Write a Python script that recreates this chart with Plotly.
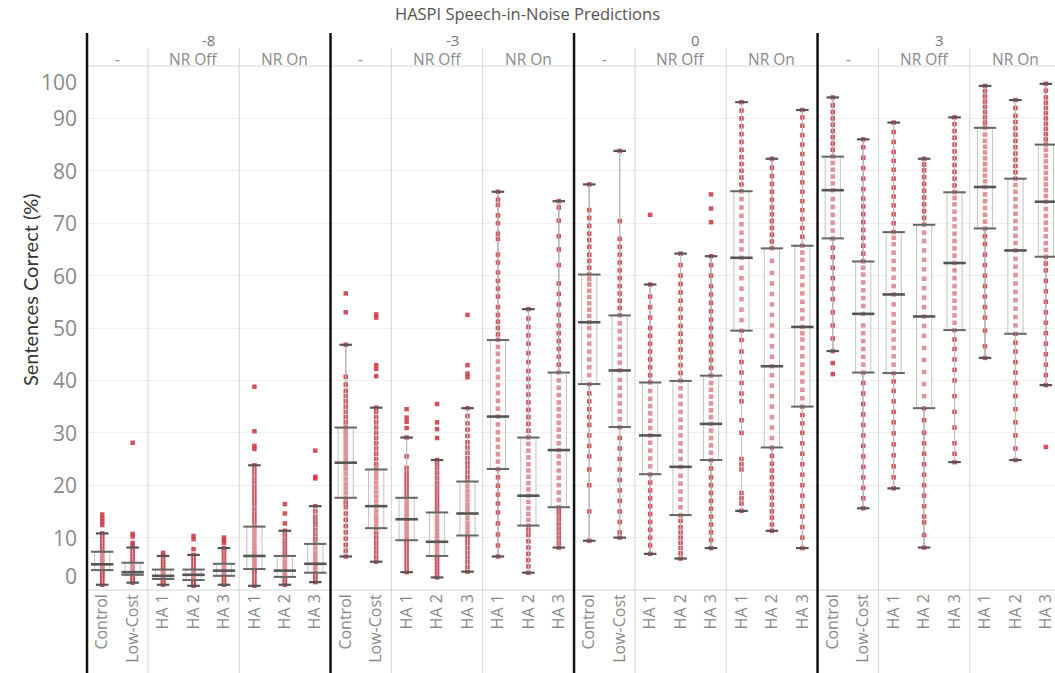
import plotly.graph_objects as go

# ---------------- data ----------------
snr_levels = ["-8", "-3", "0", "3"]
conditions = ["Control", "Low-Cost", "HA 1", "HA 2", "HA 3", "HA 1", "HA 2", "HA 3"]
condition_group = ["-", "-", "NR Off", "NR Off", "NR Off", "NR On", "NR On", "NR On"]
y_ticks = [0, 10, 20, 30, 40, 50, 60, 70, 80, 90, 100]

# box statistics per SNR (8 columns each)
q1_m8 = [3.8, 2.9, 2.1, 1.9, 2.7, 4.0, 2.5, 3.3]
med_m8 = [4.9, 3.4, 2.7, 2.9, 3.7, 6.5, 3.7, 5.0]
q3_m8 = [7.3, 5.2, 3.9, 3.9, 5.0, 12.1, 6.5, 8.8]
lo_m8 = [1.0, 1.4, 1.0, 0.8, 1.0, 0.8, 1.0, 1.5]
hi_m8 = [10.8, 8.1, 6.5, 6.7, 8.0, 23.8, 11.3, 16.0]

q1_m3 = [17.6, 11.8, 9.5, 6.5, 10.4, 23.1, 12.3, 15.8]
med_m3 = [24.3, 16.0, 13.5, 9.2, 14.6, 33.1, 18.0, 26.7]
q3_m3 = [31.0, 23.0, 17.6, 14.8, 20.7, 47.7, 29.1, 41.5]
lo_m3 = [6.4, 5.4, 3.4, 2.4, 3.5, 6.4, 3.3, 8.1]
hi_m3 = [46.8, 34.8, 29.1, 24.8, 34.7, 76.0, 53.6, 74.2]

q1_0 = [39.3, 31.1, 22.1, 14.3, 24.8, 49.5, 27.2, 35.0]
med_0 = [51.1, 41.9, 29.5, 23.5, 31.7, 63.4, 42.7, 50.2]
q3_0 = [60.2, 52.4, 39.6, 39.9, 40.9, 76.1, 65.2, 65.7]
lo_0 = [9.4, 10.0, 6.9, 6.0, 8.0, 15.1, 11.3, 8.0]
hi_0 = [77.4, 83.8, 58.3, 64.2, 63.7, 93.1, 82.3, 91.6]

q1_3 = [67.1, 41.5, 41.4, 34.7, 49.6, 69.0, 48.9, 63.6]
med_3 = [76.3, 52.7, 56.4, 52.2, 62.4, 76.9, 64.8, 74.1]
q3_3 = [82.7, 62.7, 68.3, 69.7, 75.9, 88.2, 78.5, 85.0]
lo_3 = [45.6, 15.6, 19.4, 8.1, 24.4, 44.3, 24.8, 39.1]
hi_3 = [94.0, 86.0, 89.2, 82.3, 90.2, 96.2, 93.5, 96.6]

# individual predictions
pts_m8 = [
    [1.0, 1.5, 2.0, 2.4, 2.8, 3.2, 3.5, 3.8, 4.0, 4.3, 4.6, 4.9, 5.2, 5.6, 6.0, 6.5, 7.0, 7.3, 7.8, 8.4, 9.0, 9.6, 10.2, 10.8, 12.4, 13.1, 13.7, 14.4],
    [1.4, 1.8, 2.2, 2.6, 2.9, 3.1, 3.3, 3.4, 3.6, 3.9, 4.3, 4.7, 5.2, 5.7, 6.3, 6.9, 7.5, 8.1, 8.6, 9.0, 10.2, 10.7, 28.1],
    [1.0, 1.3, 1.6, 1.9, 2.1, 2.3, 2.5, 2.7, 2.9, 3.2, 3.5, 3.9, 4.3, 4.8, 5.3, 5.9, 6.5, 7.1],
    [0.8, 1.1, 1.4, 1.7, 1.9, 2.2, 2.5, 2.9, 3.2, 3.5, 3.9, 4.4, 5.0, 5.6, 6.2, 6.7, 7.8, 9.7, 10.3],
    [1.0, 1.4, 1.8, 2.2, 2.7, 3.0, 3.4, 3.7, 4.0, 4.5, 5.0, 5.6, 6.3, 7.0, 7.5, 8.0, 9.0, 9.5, 10.0],
    [0.8, 1.5, 2.2, 3.0, 3.6, 4.0, 4.5, 5.0, 5.5, 6.0, 6.5, 7.0, 7.6, 8.3, 9.0, 9.8, 10.6, 11.4, 12.1, 13.0, 13.8, 14.6, 15.5, 16.4, 17.2, 18.0, 18.8, 19.6, 20.5, 21.3, 22.2, 23.0, 23.8, 26.9, 27.5, 30.3, 38.8],
    [1.0, 1.5, 2.0, 2.5, 2.9, 3.3, 3.7, 4.1, 4.6, 5.2, 5.8, 6.5, 7.2, 8.0, 8.8, 9.6, 10.5, 11.3, 12.7, 14.6, 16.4],
    [1.5, 2.0, 2.6, 3.3, 3.8, 4.4, 5.0, 5.6, 6.3, 7.0, 7.9, 8.8, 9.7, 10.6, 11.5, 12.4, 13.2, 14.0, 15.0, 16.0, 21.3, 21.6, 26.6],
]
pts_m3 = [
    [6.4, 7.5, 8.6, 9.8, 11.0, 12.2, 13.4, 14.6, 15.8, 16.7, 17.6, 18.5, 19.4, 20.3, 21.2, 22.1, 23.0, 23.7, 24.3, 25.0, 25.8, 26.6, 27.4, 28.2, 29.0, 29.8, 30.5, 31.0, 32.0, 33.0, 34.0, 35.0, 36.0, 37.0, 38.0, 39.2, 40.7, 46.8, 53.0, 56.6],
    [5.4, 6.3, 7.2, 8.1, 9.0, 9.9, 10.8, 11.8, 12.6, 13.4, 14.2, 15.1, 16.0, 16.9, 17.8, 18.7, 19.6, 20.5, 21.4, 22.2, 23.0, 24.0, 25.0, 26.0, 27.0, 28.0, 29.0, 30.0, 31.0, 32.0, 33.0, 34.0, 34.8, 40.8, 42.2, 42.9, 52.0, 52.6],
    [3.4, 4.2, 5.0, 5.8, 6.6, 7.4, 8.2, 8.9, 9.5, 10.2, 10.9, 11.6, 12.3, 13.0, 13.5, 14.1, 14.7, 15.3, 16.0, 16.8, 17.6, 18.4, 19.2, 20.0, 20.8, 21.6, 22.4, 23.3, 25.5, 29.1, 30.9, 32.1, 32.9, 34.5],
    [2.4, 3.0, 3.6, 4.2, 4.8, 5.4, 6.0, 6.5, 7.1, 7.7, 8.3, 8.8, 9.2, 9.8, 10.4, 11.0, 11.7, 12.4, 13.1, 13.9, 14.8, 15.6, 16.4, 17.2, 18.0, 18.8, 19.6, 20.5, 21.4, 22.3, 23.2, 24.0, 24.8, 29.0, 30.7, 32.0, 35.5],
    [3.5, 4.4, 5.3, 6.2, 7.1, 8.0, 8.9, 9.7, 10.4, 11.2, 12.0, 12.8, 13.7, 14.6, 15.4, 16.2, 17.1, 18.0, 18.9, 19.8, 20.7, 21.6, 22.5, 23.4, 24.3, 25.2, 26.2, 27.2, 28.2, 29.4, 30.6, 31.8, 33.2, 34.7, 40.6, 41.3, 42.9, 52.5],
    [6.4, 8.5, 10.6, 12.7, 14.8, 16.5, 18.2, 19.9, 21.5, 23.1, 24.5, 25.9, 27.3, 28.7, 30.1, 31.6, 33.1, 34.6, 36.1, 37.6, 39.1, 40.6, 42.1, 43.6, 45.1, 46.4, 47.7, 48.8, 50.0, 51.2, 52.5, 54.0, 56.0, 57.5, 59.0, 60.6, 62.5, 64.0, 67.0, 68.0, 70.0, 71.5, 73.5, 74.5, 76.0],
    [3.3, 4.5, 5.7, 6.9, 8.1, 9.3, 10.5, 11.4, 12.3, 13.4, 14.5, 15.6, 16.8, 18.0, 19.2, 20.4, 21.6, 22.8, 24.0, 25.3, 26.6, 27.9, 29.1, 30.4, 31.7, 33.0, 34.4, 35.8, 37.3, 38.8, 40.3, 41.8, 43.5, 45.2, 47.0, 48.6, 50.2, 51.8, 53.6],
    [8.1, 9.0, 9.9, 10.8, 11.7, 12.6, 13.5, 14.4, 15.1, 15.8, 17.2, 18.6, 20.0, 21.4, 22.8, 24.2, 25.5, 26.7, 28.0, 29.3, 30.6, 31.9, 33.2, 34.5, 35.8, 37.2, 38.6, 40.0, 41.5, 43.0, 44.5, 46.0, 47.5, 49.0, 50.5, 52.5, 54.5, 56.5, 58.5, 62.0, 65.0, 67.5, 70.5, 73.0, 74.2],
]
pts_0 = [
    [9.4, 15.0, 20.0, 23.0, 25.5, 27.5, 29.5, 31.5, 33.0, 34.5, 36.0, 37.5, 39.3, 41.0, 42.5, 44.0, 45.5, 47.0, 48.5, 50.0, 51.1, 52.3, 53.5, 54.7, 55.9, 57.1, 58.3, 59.3, 60.2, 61.5, 62.8, 64.0, 65.5, 66.8, 68.0, 69.5, 71.0, 72.5, 77.4],
    [10.0, 11.0, 13.0, 15.0, 17.0, 19.0, 21.0, 23.0, 25.0, 27.0, 29.0, 31.1, 32.6, 34.1, 35.6, 37.1, 38.6, 40.1, 41.9, 43.4, 44.9, 46.4, 47.9, 49.4, 50.9, 52.4, 53.8, 55.2, 56.6, 58.0, 59.5, 61.0, 62.5, 64.0, 65.5, 67.0, 70.4, 83.8],
    [6.9, 8.5, 10.0, 11.5, 13.0, 14.5, 16.0, 17.5, 19.0, 20.5, 22.1, 23.6, 25.1, 26.6, 28.1, 29.5, 30.9, 32.3, 33.7, 35.1, 36.5, 38.0, 39.6, 41.0, 42.5, 44.0, 45.5, 47.0, 48.5, 50.0, 52.0, 54.0, 56.0, 58.3, 71.6],
    [6.0, 7.0, 8.0, 9.0, 10.0, 11.0, 12.0, 13.2, 14.3, 15.8, 17.3, 18.8, 20.3, 21.8, 23.5, 25.0, 26.5, 28.0, 29.5, 31.0, 32.5, 34.0, 35.5, 37.0, 38.5, 39.9, 41.4, 42.9, 44.4, 45.9, 47.4, 48.9, 50.4, 52.0, 53.6, 55.2, 56.8, 58.4, 60.0, 62.0, 64.2],
    [8.0, 9.5, 11.0, 12.5, 14.0, 15.5, 17.0, 18.5, 20.0, 21.5, 23.2, 24.8, 26.2, 27.6, 29.0, 30.4, 31.7, 33.0, 34.3, 35.6, 36.9, 38.2, 39.5, 40.9, 42.4, 43.9, 45.4, 46.9, 48.4, 50.0, 51.6, 53.2, 54.8, 56.4, 58.0, 60.0, 62.0, 63.7, 70.2, 72.8, 75.5],
    [15.1, 16.5, 17.5, 18.5, 23.0, 24.0, 25.0, 30.0, 32.4, 36.0, 37.5, 39.5, 41.5, 43.5, 45.5, 47.7, 49.5, 51.5, 53.5, 55.5, 57.5, 59.5, 61.5, 63.4, 65.0, 66.6, 68.2, 69.8, 71.4, 73.0, 74.6, 76.1, 77.4, 78.7, 80.0, 81.3, 82.6, 84.0, 85.5, 87.0, 88.5, 90.0, 91.5, 93.1],
    [11.3, 12.5, 13.8, 15.0, 16.3, 17.6, 18.9, 20.2, 21.5, 22.8, 24.1, 25.6, 27.2, 29.0, 31.0, 33.0, 35.0, 37.0, 39.0, 41.0, 42.7, 44.5, 46.5, 48.5, 50.5, 52.5, 54.5, 56.5, 58.5, 60.5, 62.8, 65.2, 66.5, 67.8, 69.1, 70.4, 71.7, 73.0, 74.5, 76.0, 77.5, 79.0, 80.6, 82.3],
    [8.0, 10.0, 12.0, 14.0, 16.0, 18.0, 20.0, 22.0, 24.0, 26.0, 28.0, 30.0, 31.8, 33.4, 35.0, 36.6, 38.2, 39.8, 41.4, 43.0, 44.6, 46.2, 47.8, 49.0, 50.2, 51.8, 53.4, 55.0, 56.6, 58.2, 59.8, 61.4, 63.0, 64.4, 65.7, 67.4, 69.1, 70.8, 72.5, 74.2, 76.0, 77.8, 79.6, 81.4, 83.2, 85.0, 86.8, 88.6, 90.2, 91.6],
]
pts_3 = [
    [41.2, 43.3, 45.6, 48.0, 50.5, 53.0, 55.5, 57.5, 59.5, 61.5, 63.5, 65.3, 67.1, 68.6, 70.1, 71.6, 73.1, 74.6, 76.3, 77.6, 78.9, 80.2, 81.5, 82.7, 84.0, 85.2, 86.4, 87.6, 88.8, 90.0, 91.2, 92.5, 94.0],
    [15.6, 17.5, 19.5, 21.5, 23.5, 25.5, 27.5, 29.5, 31.5, 33.5, 35.5, 37.5, 39.5, 41.5, 43.0, 44.5, 46.0, 47.5, 49.0, 50.5, 52.7, 54.2, 55.7, 57.2, 58.7, 60.2, 61.5, 62.7, 64.2, 65.7, 67.2, 68.7, 70.2, 71.7, 73.2, 74.7, 76.5, 78.5, 80.5, 82.5, 84.5, 86.0],
    [19.4, 21.5, 23.6, 25.7, 27.8, 29.9, 32.0, 34.0, 36.0, 38.0, 39.8, 41.4, 43.0, 44.6, 46.2, 47.8, 49.4, 51.0, 52.6, 54.5, 56.4, 58.0, 59.6, 61.2, 62.8, 64.4, 66.0, 67.2, 68.3, 70.0, 71.7, 73.4, 75.1, 76.8, 78.5, 80.2, 81.9, 83.6, 85.5, 87.4, 89.2],
    [8.1, 10.5, 12.9, 14.0, 16.0, 18.0, 20.0, 22.0, 24.0, 26.0, 28.0, 30.0, 32.4, 34.7, 37.0, 39.3, 41.6, 43.9, 46.2, 48.5, 50.4, 52.2, 54.0, 55.8, 57.6, 59.4, 61.2, 63.0, 64.8, 66.6, 68.2, 69.7, 71.0, 72.3, 73.6, 74.9, 76.2, 77.5, 78.8, 80.1, 81.2, 82.3],
    [24.4, 26.0, 28.0, 31.0, 34.0, 37.0, 40.0, 42.0, 44.0, 46.0, 47.8, 49.6, 51.0, 52.4, 53.8, 55.2, 56.6, 58.0, 59.5, 61.0, 62.4, 63.8, 65.2, 66.6, 68.0, 69.4, 70.8, 72.2, 73.6, 74.8, 75.9, 77.2, 78.5, 79.8, 81.1, 82.4, 83.7, 85.0, 86.3, 87.6, 88.9, 90.2],
    [44.3, 46.5, 49.5, 52.0, 54.0, 56.0, 58.0, 60.0, 62.0, 64.0, 66.0, 67.5, 69.0, 70.3, 71.6, 72.9, 74.2, 75.5, 76.9, 78.0, 79.1, 80.2, 81.3, 82.4, 83.5, 84.6, 85.7, 86.9, 88.2, 89.2, 90.2, 91.2, 92.2, 93.2, 94.2, 95.2, 96.2],
    [24.8, 27.0, 29.5, 32.0, 34.5, 37.0, 39.5, 41.5, 43.5, 45.5, 47.2, 48.9, 50.5, 52.1, 53.7, 55.3, 56.9, 58.5, 60.1, 61.7, 63.2, 64.8, 66.2, 67.6, 69.0, 70.4, 71.8, 73.2, 74.6, 76.0, 77.3, 78.5, 79.7, 80.9, 82.1, 83.3, 84.5, 85.7, 86.9, 88.1, 89.3, 90.5, 92.0, 93.5],
    [27.3, 39.1, 41.0, 43.0, 45.0, 47.0, 49.0, 51.0, 53.0, 55.0, 57.0, 59.0, 61.0, 62.3, 63.6, 64.9, 66.2, 67.5, 68.8, 70.1, 71.4, 72.7, 74.1, 75.2, 76.3, 77.4, 78.5, 79.6, 80.7, 81.8, 82.9, 84.0, 85.0, 86.0, 87.0, 88.0, 89.0, 90.0, 91.0, 92.0, 93.0, 94.0, 95.3, 96.6],
]

# ---------------- assemble ----------------
q1_all = q1_m8 + q1_m3 + q1_0 + q1_3
med_all = med_m8 + med_m3 + med_0 + med_3
q3_all = q3_m8 + q3_m3 + q3_0 + q3_3
lo_all = lo_m8 + lo_m3 + lo_0 + lo_3
hi_all = hi_m8 + hi_m3 + hi_0 + hi_3
pts_all = pts_m8 + pts_m3 + pts_0 + pts_3

n_cond = len(conditions)
n_cols = n_cond * len(snr_levels)
pos = list(range(n_cols))
XR = [-0.5, 31.3]
FONT = "Open Sans"
GRAY_TXT = "#8a8a8a"

# pixel geometry of the plotting pane (used to place header texts)
PANE_L, PANE_T, PANE_B, PANE_W = 87, 66, 590, 968
PANE_H = PANE_B - PANE_T


def ypix(p):
    return (PANE_B - p) / PANE_H


def xp(v):
    return (v - XR[0]) / (XR[1] - XR[0])


px_, py_ = [], []
for i, vals in enumerate(pts_all):
    px_ += [pos[i]] * len(vals)
    py_ += vals

fig = go.Figure()

# whisker lines (below the points)
wx, wy = [], []
for i in pos:
    wx += [i, i, None, i, i, None]
    wy += [lo_all[i], q1_all[i], None, q3_all[i], hi_all[i], None]
fig.add_trace(go.Scatter(x=wx, y=wy, mode="lines", xaxis="x", yaxis="y",
                         line=dict(color="#777777", width=1), showlegend=False, hoverinfo="skip"))

# points
fig.add_trace(go.Scatter(
    x=px_, y=py_, mode="markers", xaxis="x", yaxis="y",
    marker=dict(symbol="square", size=4.5, color="#cc3f4c", opacity=0.9, line=dict(width=0)),
    hoverinfo="y", showlegend=False))

# boxes on overlaying axes so they sit above the points
fig.add_trace(go.Box(
    x=pos, q1=q1_all, median=med_all, q3=q3_all,
    lowerfence=lo_all, upperfence=hi_all,
    xaxis="x2", yaxis="y2", width=0.5, boxpoints=False,
    fillcolor="rgba(244,244,244,0.4)", line=dict(color="#c4c4c4", width=1),
    whiskerwidth=0, showlegend=False, hoverinfo="skip"))

# whisker caps
fig.add_trace(go.Scatter(
    x=pos + pos, y=lo_all + hi_all, mode="markers", xaxis="x2", yaxis="y2",
    marker=dict(symbol="line-ew", size=9, line=dict(color="#555555", width=2.2)),
    showlegend=False, hoverinfo="skip"))
# quartile edges
fig.add_trace(go.Scatter(
    x=pos + pos, y=q1_all + q3_all, mode="markers", xaxis="x2", yaxis="y2",
    marker=dict(symbol="line-ew", size=16, line=dict(color="#666666", width=2)),
    showlegend=False, hoverinfo="skip"))
# medians
fig.add_trace(go.Scatter(
    x=pos, y=med_all, mode="markers", xaxis="x2", yaxis="y2",
    marker=dict(symbol="line-ew", size=16, line=dict(color="#555555", width=2.6)),
    showlegend=False, hoverinfo="skip"))

Y_BOT = ypix(673)
shapes = []
for s in range(len(snr_levels)):
    for c in range(1, n_cond):
        if condition_group[c] != condition_group[c - 1]:
            xv = xp(s * n_cond + c - 0.5)
            shapes.append(dict(type="line", xref="paper", yref="paper", x0=xv, x1=xv,
                               y0=Y_BOT, y1=ypix(48), line=dict(color="#d6d6d6", width=1)))
shapes.append(dict(type="line", xref="paper", yref="paper", x0=0, x1=1, y0=1, y1=1,
                   line=dict(color="#d6d6d6", width=1)))
shapes.append(dict(type="line", xref="paper", yref="paper", x0=0, x1=1, y0=0, y1=0,
                   line=dict(color="#d6d6d6", width=1.2)))
for s in range(len(snr_levels)):
    xv = xp(s * n_cond - 0.5)
    shapes.append(dict(type="line", xref="paper", yref="paper", x0=xv, x1=xv,
                       y0=Y_BOT, y1=ypix(33), line=dict(color="#111111", width=2.5)))

annotations = []
for s, snr in enumerate(snr_levels):
    annotations.append(dict(x=s * n_cond + (n_cond - 1) / 2, y=ypix(39.5), xref="x", yref="paper",
                            xanchor="center", yanchor="middle",
                            text=snr, showarrow=False, font=dict(family=FONT, size=15, color="#777777")))
    start = 0
    while start < n_cond:
        end = start
        while end + 1 < n_cond and condition_group[end + 1] == condition_group[start]:
            end += 1
        annotations.append(dict(x=s * n_cond + (start + end) / 2, y=ypix(59), xref="x", yref="paper",
                                xanchor="center", yanchor="middle",
                                text=condition_group[start], showarrow=False,
                                font=dict(family=FONT, size=15.5, color="#8a8a8a")))
        start = end + 1

for t in y_ticks:
    shift = 14 if t == y_ticks[0] else (-16 if t == y_ticks[-1] else 0)
    annotations.append(dict(x=0, y=t, xref="paper", yref="y", text=str(t), showarrow=False,
                            xanchor="right", yanchor="middle", xshift=-8, yshift=shift,
                            font=dict(family=FONT, size=21, color=GRAY_TXT)))

annotations.append(dict(x=(30 - PANE_L) / PANE_W, y=ypix(290), xref="paper", yref="paper",
                        text="Sentences Correct (%)", textangle=-90, showarrow=False,
                        xanchor="center", yanchor="middle",
                        font=dict(family="Lato", size=20, color="#333333")))

fig.update_layout(
    width=1055, height=673,
    margin=dict(l=PANE_L, r=0, t=PANE_T, b=673 - PANE_B),
    paper_bgcolor="white", plot_bgcolor="white",
    title=dict(text="HASPI Speech-in-Noise Predictions", x=0.5, xref="container", xanchor="center",
               y=1 - 14 / 673, yref="container", yanchor="middle",
               font=dict(family=FONT, size=16.5, color="#555555")),
    xaxis=dict(range=XR, tickmode="array", tickvals=pos, ticktext=conditions * len(snr_levels),
               tickangle=-90, tickfont=dict(family=FONT, size=16, color=GRAY_TXT),
               ticklabeloverflow="allow",
               showgrid=False, zeroline=False, showline=False, ticks="", automargin=False),
    yaxis=dict(range=[0, 100], tickvals=y_ticks, showticklabels=False, gridcolor="#f0f0f0",
               gridwidth=1, zeroline=False, showline=False, ticks="", automargin=False),
    xaxis2=dict(range=XR, overlaying="x", visible=False),
    yaxis2=dict(range=[0, 100], overlaying="y", visible=False),
    shapes=shapes, annotations=annotations, showlegend=False,
)

fig.write_html("out.html", config={"displayModeBar": False},
               post_script="document.body.style.margin='0px';")
